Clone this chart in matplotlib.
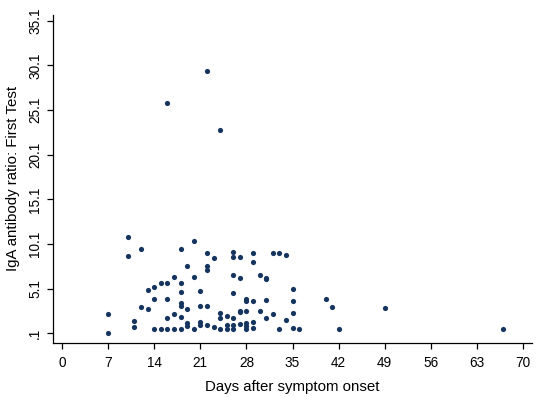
import matplotlib
matplotlib.use("Agg")
import matplotlib.pyplot as plt

# days after symptom onset, one entry per measurement
days = [
    7, 7,
    10, 10,
    11, 11,
    12, 12,
    13, 13,
    14, 14, 14,
    15, 15,
    16, 16, 16, 16, 16,
    17, 17, 17,
    18, 18, 18, 18, 18, 18, 18,
    19, 19, 19, 19,
    20, 20, 20,
    21, 21, 21, 21,
    22, 22, 22, 22, 22, 22,
    23, 23,
    24, 24, 24, 24,
    25, 25, 25,
    26, 26, 26, 26, 26, 26, 26,
    27, 27, 27, 27, 27,
    28, 28, 28, 28, 28, 28,
    29, 29, 29, 29, 29,
    30, 30,
    31, 31, 31, 31,
    32, 32,
    33, 33,
    34, 34,
    35, 35, 35, 35,
    36,
    40, 41, 42, 49, 67,
]

# IgA antibody ratio at first test
iga_ratio = [
    2.25, 0.1,
    10.9, 8.8,
    1.45, 0.85,
    9.5, 3.1,
    4.95, 2.8,
    5.25, 3.9, 0.6,
    5.8, 0.6,
    25.9, 5.8, 4.0, 1.85, 0.6,
    6.45, 2.25, 0.6,
    9.5, 5.7, 4.7, 3.5, 3.15, 1.95, 0.55,
    7.7, 2.8, 1.3, 0.9,
    10.5, 6.45, 0.55,
    4.9, 3.2, 1.4, 1.0,
    29.5, 9.15, 7.7, 7.15, 3.2, 1.05,
    8.55, 0.85,
    22.85, 2.35, 1.85, 0.55,
    2.1, 1.0, 0.6,
    9.25, 8.65, 6.65, 4.6, 1.85, 1.0, 0.6,
    8.65, 6.25, 2.65, 2.45, 1.2,
    3.95, 3.75, 2.65, 1.3, 0.9, 0.55,
    9.15, 8.05, 3.7, 1.4, 0.75,
    6.65, 2.65,
    6.35, 6.15, 3.85, 1.8,
    9.15, 2.25,
    9.15, 0.55,
    8.85, 1.55,
    5.1, 3.75, 2.35, 0.75,
    0.55,
    3.9, 3.1, 0.6, 2.9, 0.6,
]

x_ticks = [0, 7, 14, 21, 28, 35, 42, 49, 56, 63, 70]
y_ticks = [0.1, 5.1, 10.1, 15.1, 20.1, 25.1, 30.1, 35.1]
y_tick_labels = [".1", "5.1", "10.1", "15.1", "20.1", "25.1", "30.1", "35.1"]

plt.rcParams["font.family"] = ["Liberation Sans", "DejaVu Sans"]

fig = plt.figure(figsize=(5.36, 3.97), dpi=100)
ax = fig.add_axes([0.0995, 0.137, 0.8925, 0.825])

ax.scatter(days, iga_ratio, s=14, color="#15355f", linewidths=0, zorder=3)

ax.set_xlim(-1.32, 71.3)
ax.set_ylim(-0.93, 35.74)
ax.set_xticks(x_ticks)
ax.set_yticks(y_ticks)
ax.set_yticklabels(y_tick_labels, rotation=90, va="center")

for side in ("top", "right"):
    ax.spines[side].set_visible(False)
for side in ("left", "bottom"):
    ax.spines[side].set_linewidth(0.9)

ax.tick_params(axis="both", direction="out", length=4.5, width=0.9,
               labelsize=9.8, colors="black")
ax.tick_params(axis="x", pad=5)
ax.tick_params(axis="y", pad=3.5)

ax.set_xlabel("Days after symptom onset", fontsize=10.8, labelpad=7)
ax.set_ylabel("IgA antibody ratio: First Test", fontsize=10.8, labelpad=6)

fig.savefig("out.png", dpi=100)
